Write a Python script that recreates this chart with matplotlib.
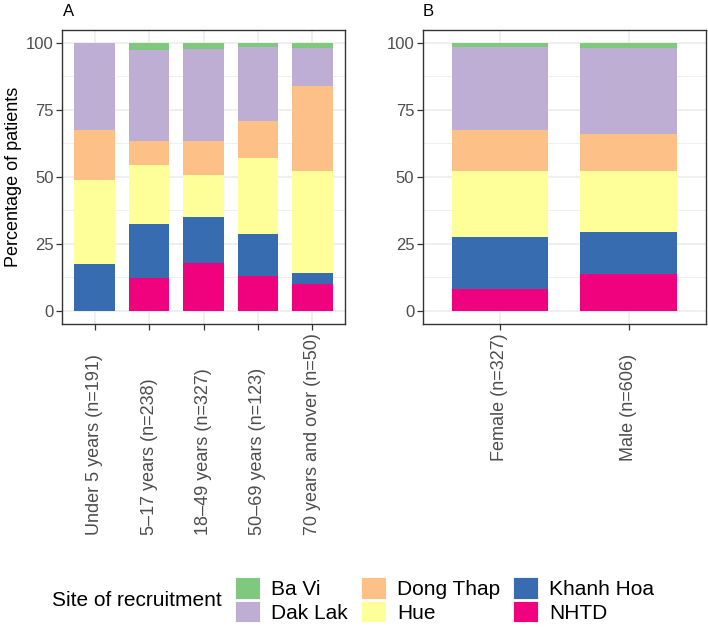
import matplotlib
matplotlib.use("Agg")
import matplotlib.pyplot as plt
from matplotlib.patches import Patch
import numpy as np

plt.rcParams['font.family'] = ['Liberation Sans', 'DejaVu Sans']

# sites, stacked bottom -> top
sites = ["NHTD", "Khanh Hoa", "Hue", "Dong Thap", "Dak Lak", "Ba Vi"]
site_colors = {"Ba Vi": "#7FC97F", "Dak Lak": "#BEAED4", "Dong Thap": "#FDC086",
               "Hue": "#FFFF99", "Khanh Hoa": "#386CB0", "NHTD": "#F0027F"}

# panel A: age groups (percent of patients per site)
age_labels = ["Under 5 years (n=191)", "5\u201317 years (n=238)", "18\u201349 years (n=327)",
              "50\u201369 years (n=123)", "70 years and over (n=50)"]
age_pct = {
    "NHTD":      [0.0, 12.3, 17.8, 13.1, 10.0],
    "Khanh Hoa": [17.3, 20.2, 17.1, 15.5, 4.0],
    "Hue":       [31.4, 21.8, 15.6, 28.3, 38.0],
    "Dong Thap": [18.9, 9.2, 12.9, 14.0, 32.0],
    "Dak Lak":   [32.4, 33.8, 34.2, 27.5, 14.0],
    "Ba Vi":     [0.0, 2.7, 2.4, 1.6, 2.0],
}

# panel B: sex
sex_labels = ["Female (n=327)", "Male (n=606)"]
sex_pct = {
    "NHTD":      [8.0, 13.6],
    "Khanh Hoa": [19.6, 15.7],
    "Hue":       [24.4, 22.7],
    "Dong Thap": [15.3, 14.0],
    "Dak Lak":   [31.3, 32.1],
    "Ba Vi":     [1.4, 1.9],
}

fig = plt.figure(figsize=(7.08, 6.28), dpi=100)
axA = fig.add_axes([62/708, 1-324/628, 283/708, 294.5/628])
axB = fig.add_axes([422.7/708, 1-324/628, 283/708, 294.5/628])


def stacked(ax, labels, pct):
    x = np.arange(1, len(labels)+1)
    bottom = np.zeros(len(labels))
    for s in sites:
        vals = np.array(pct[s])
        ax.bar(x, vals, width=0.75, bottom=bottom, color=site_colors[s],
               edgecolor='none', zorder=3)
        bottom += vals
    ax.set_xlim(0.4, len(labels)+0.6)
    ax.set_ylim(-5, 105)
    ax.set_yticks([0, 25, 50, 75, 100])
    ax.set_yticks([12.5, 37.5, 62.5, 87.5], minor=True)
    ax.set_xticks(x)
    ax.set_xticklabels([])
    ax.grid(which='major', color='#EBEBEB', lw=1.1, zorder=0)
    ax.grid(which='minor', axis='y', color='#EBEBEB', lw=0.55, zorder=0)
    ax.tick_params(which='major', length=4.5, width=0.9, color='#333333',
                   labelsize=12, labelcolor='#4D4D4D', pad=1.5)
    ax.tick_params(which='minor', length=0)
    for sp in ax.spines.values():
        sp.set_color('#333333')
        sp.set_linewidth(1.0)
    # rotated labels, all starting at same baseline like ggplot
    texts = []
    for xi, lab in zip(x, labels):
        t = ax.text(xi, 0, lab, rotation=90, ha='center', va='bottom',
                    fontsize=13, color='#4D4D4D',
                    transform=ax.get_xaxis_transform())
        texts.append(t)
    return texts


textsA = stacked(axA, age_labels, age_pct)
textsB = stacked(axB, sex_labels, sex_pct)

axA.set_ylabel("Percentage of patients", fontsize=13, labelpad=3)

# align labels: longest label's top sits just below the ticks
fig.canvas.draw()
r = fig.canvas.get_renderer()
for ax, texts in [(axA, textsA), (axB, textsB)]:
    hmax = max(t.get_window_extent(r).height for t in texts)
    top_px = ax.get_window_extent(r).y0 - 9
    yb = ax.transAxes.inverted().transform((0, top_px - hmax))[1]
    for t in texts:
        t.set_y(yb)

fig.text(63/708, 1-11/628, "A", fontsize=12, va='center', ha='left')
fig.text(423/708, 1-11/628, "B", fontsize=12, va='center', ha='left')

order = ["Ba Vi", "Dak Lak", "Dong Thap", "Hue", "Khanh Hoa", "NHTD"]
handles = [Patch(facecolor=site_colors[s], edgecolor='white', lw=0.6) for s in order]
fig.text(52/708, 1-601/628, "Site of recruitment", fontsize=15, va='center', ha='left')
fig.legend(handles, order, ncol=3, loc='center left',
           bbox_to_anchor=(235/708, 1-600/628), frameon=False,
           fontsize=15, handlelength=1.2, handleheight=1.2,
           handletextpad=0.55, columnspacing=0.6, labelspacing=0.08,
           borderpad=0, borderaxespad=0)

fig.savefig("out.png", dpi=100)
